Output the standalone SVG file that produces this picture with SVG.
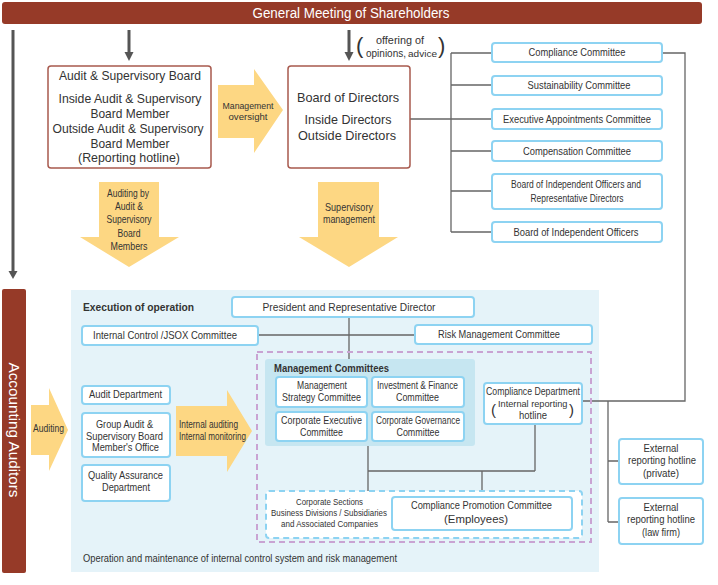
<svg xmlns="http://www.w3.org/2000/svg" width="718" height="585" viewBox="0 0 718 585">
<style>
text{font-family:"Liberation Sans",Arial,sans-serif;fill:#333;}
.c{text-anchor:middle;}
.f14{font-size:14px;}
.f13{font-size:13px;}
.f12{font-size:12.5px;}
.f11{font-size:11px;}
.f10{font-size:10.5px;}
.f9{font-size:9.5px;}
.b{font-weight:bold;}
.w{fill:#fff;}
.brown{fill:#963a28;}
.rbox{fill:#fff;stroke:#a85a4e;stroke-width:1.5;}
.bbox{fill:#fff;stroke:#8dd3f2;stroke-width:2;}
.yarrow{fill:#fdd783;}
.conn{stroke:#666;stroke-width:1.3;fill:none;}
.dark{stroke:#555;stroke-width:3;fill:none;}
.head{fill:#555;}
</style>

<g id="general-meeting">
<rect class="brown" x="2" y="2" width="700" height="22" rx="3"/>
<text class="c f14 w" x="351" y="18" textLength="197" lengthAdjust="spacingAndGlyphs">General Meeting of Shareholders</text>
</g>

<g id="accounting-auditors">
<rect class="brown" x="2" y="289" width="24" height="284" rx="2"/>
<text class="c w" font-size="15" transform="translate(8.5,430) rotate(90)" x="0" y="0" textLength="135" lengthAdjust="spacingAndGlyphs">Accounting Auditors</text>
</g>

<g id="execution-region">
<rect x="71" y="290" width="528" height="282" fill="#e5f3f9"/>
<text class="f11 b" x="83" y="311" textLength="111" lengthAdjust="spacingAndGlyphs">Execution of operation</text>
<text class="f11" x="83" y="562" textLength="314" lengthAdjust="spacingAndGlyphs">Operation and maintenance of internal control system and risk management</text>
</g>

<g id="connectors">
<path class="dark" d="M13,30 V272"/>
<polygon class="head" points="8.5,271 17.5,271 13,279"/>
<path class="dark" d="M129,30 V53"/>
<polygon class="head" points="124.5,52 133.5,52 129,61"/>
<path class="dark" d="M349,30 V53"/>
<polygon class="head" points="344.5,52 353.5,52 349,61"/>
<path class="conn" d="M410,119 H492 M451,53 V232 M451,53 H492 M451,85 H492 M451,151 H492 M451,191 H492 M451,232 H492"/>
<path class="conn" d="M662,53 H685 V401 H582 M608,401 V522 M608,461 H619 M608,522 H619"/>
<path class="conn" d="M349,317 V359 M258,335 H415"/>
<path class="conn" d="M368,446 V491 M368,471 H535 M535,424 V471 M482,471 V497"/>
</g>

<g id="opinions-label">
<text font-size="22" x="356" y="53">(</text>
<text font-size="22" x="438" y="53">)</text>
<text class="c f11" x="400" y="44" textLength="48" lengthAdjust="spacingAndGlyphs">offering of</text>
<text class="f11" x="366" y="57" textLength="40" lengthAdjust="spacingAndGlyphs">opinions,</text>
<text font-size="9" x="408" y="57" textLength="29" lengthAdjust="spacingAndGlyphs">advice</text>
</g>

<g id="audit-supervisory-board">
<rect class="rbox" x="48" y="66" width="163" height="102" rx="3"/>
<text class="c f13" x="130" y="80" textLength="142" lengthAdjust="spacingAndGlyphs">Audit &amp; Supervisory Board</text>
<text class="c f13" x="130" y="103" textLength="143" lengthAdjust="spacingAndGlyphs">Inside Audit &amp; Supervisory</text>
<text class="c f13" x="130" y="118" textLength="79" lengthAdjust="spacingAndGlyphs">Board Member</text>
<text class="c f13" x="128" y="133" textLength="151" lengthAdjust="spacingAndGlyphs">Outside Audit &amp; Supervisory</text>
<text class="c f13" x="130" y="148" textLength="79" lengthAdjust="spacingAndGlyphs">Board Member</text>
<text class="c f13" x="129" y="162" textLength="102" lengthAdjust="spacingAndGlyphs">(Reporting hotline)</text>
</g>

<g id="board-of-directors">
<rect class="rbox" x="288" y="66" width="122" height="102" rx="3"/>
<text class="c f13" x="348" y="102" textLength="102" lengthAdjust="spacingAndGlyphs">Board of Directors</text>
<text class="c f13" x="348" y="124" textLength="87" lengthAdjust="spacingAndGlyphs">Inside Directors</text>
<text class="c f13" x="347" y="140" textLength="98" lengthAdjust="spacingAndGlyphs">Outside Directors</text>
</g>

<g id="management-oversight">
<polygon class="yarrow" points="218,85 254,85 254,69 283,110 254,153 254,138 218,138"/>
<text class="c" font-size="9.5" x="248" y="108.5" textLength="51" lengthAdjust="spacingAndGlyphs">Management</text>
<text class="c" font-size="9.5" x="248" y="119.5" textLength="39" lengthAdjust="spacingAndGlyphs">oversight</text>
</g>

<g id="compliance-committee">
<rect class="bbox" x="492" y="43" width="170" height="19" rx="3"/>
<text class="c f11" x="577" y="56" textLength="97" lengthAdjust="spacingAndGlyphs">Compliance Committee</text>
</g>
<g id="sustainability-committee">
<rect class="bbox" x="492" y="76" width="170" height="19" rx="3"/>
<text class="c f11" x="579" y="89" textLength="103" lengthAdjust="spacingAndGlyphs">Sustainability Committee</text>
</g>
<g id="executive-appointments-committee">
<rect class="bbox" x="492" y="109" width="170" height="20" rx="3"/>
<text class="c f11" x="577" y="123" textLength="148" lengthAdjust="spacingAndGlyphs">Executive Appointments Committee</text>
</g>
<g id="compensation-committee">
<rect class="bbox" x="492" y="141" width="170" height="20" rx="3"/>
<text class="c f11" x="577" y="155" textLength="108" lengthAdjust="spacingAndGlyphs">Compensation Committee</text>
</g>
<g id="board-independent-officers-rep">
<rect class="bbox" x="492" y="174" width="170" height="35" rx="3"/>
<text class="c f10" x="576" y="188" textLength="130" lengthAdjust="spacingAndGlyphs">Board of Independent Officers and</text>
<text class="c f10" x="577" y="202" textLength="93" lengthAdjust="spacingAndGlyphs">Representative Directors</text>
</g>
<g id="board-independent-officers">
<rect class="bbox" x="492" y="222" width="170" height="20" rx="3"/>
<text class="c f11" x="576" y="236" textLength="125" lengthAdjust="spacingAndGlyphs">Board of Independent Officers</text>
</g>

<g id="auditing-by-board">
<polygon class="yarrow" points="99,182 159,182 159,237 179,237 129,267 80,237 99,237"/>
<text class="c f10" x="128" y="197" textLength="42" lengthAdjust="spacingAndGlyphs">Auditing by</text>
<text class="c f10" x="129" y="210" textLength="28" lengthAdjust="spacingAndGlyphs">Audit &amp;</text>
<text class="c f10" x="129" y="223" textLength="45" lengthAdjust="spacingAndGlyphs">Supervisory</text>
<text class="c f10" x="129" y="237" textLength="23" lengthAdjust="spacingAndGlyphs">Board</text>
<text class="c f10" x="129" y="250" textLength="37" lengthAdjust="spacingAndGlyphs">Members</text>
</g>

<g id="supervisory-management">
<polygon class="yarrow" points="318,182 379,182 379,237 398,237 349,267 299,237 318,237"/>
<text class="c f10" x="349" y="211" textLength="48" lengthAdjust="spacingAndGlyphs">Supervisory</text>
<text class="c f10" x="349" y="222.5" textLength="52" lengthAdjust="spacingAndGlyphs">management</text>
</g>

<g id="auditing-arrow">
<polygon class="yarrow" points="31,405 49,405 49,388 68,430 49,471 49,455 31,455"/>
<text class="f10" x="33" y="432" textLength="31" lengthAdjust="spacingAndGlyphs">Auditing</text>
</g>

<g id="internal-auditing-arrow">
<polygon class="yarrow" points="176,406 227,406 227,390 252,431 227,472 227,456 176,456"/>
<text class="f10" x="179" y="428" textLength="59" lengthAdjust="spacingAndGlyphs">Internal auditing</text>
<text class="f10" x="179" y="439.5" textLength="67" lengthAdjust="spacingAndGlyphs">Internal monitoring</text>
</g>

<g id="president">
<rect class="bbox" x="232" y="297" width="242" height="20" rx="3"/>
<text class="c f11" x="349" y="311" textLength="173" lengthAdjust="spacingAndGlyphs">President and Representative Director</text>
</g>

<g id="internal-control-committee">
<rect class="bbox" x="82" y="326" width="176" height="19" rx="3"/>
<text class="c f10" x="165" y="339" textLength="144" lengthAdjust="spacingAndGlyphs">Internal Control /JSOX Committee</text>
</g>

<g id="risk-management-committee">
<rect class="bbox" x="415" y="325" width="177" height="19" rx="3"/>
<text class="c f11" x="499" y="338" textLength="122" lengthAdjust="spacingAndGlyphs">Risk Management Committee</text>
</g>

<g id="group-area">
<rect x="257" y="352" width="334" height="190" fill="none" stroke="#c9a3d3" stroke-width="2" stroke-dasharray="6,4"/>
</g>

<g id="management-committees">
<rect x="265" y="359" width="210" height="87" rx="3" fill="#c6e6f1"/>
<text class="f11 b" x="274" y="372" textLength="115" lengthAdjust="spacingAndGlyphs">Management Committees</text>
</g>
<g id="management-strategy-committee">
<rect class="bbox" x="276" y="377" width="91" height="30" rx="3"/>
<text class="c f10" x="322" y="389" textLength="50" lengthAdjust="spacingAndGlyphs">Management</text>
<text class="c f10" x="321.5" y="401" textLength="79" lengthAdjust="spacingAndGlyphs">Strategy Committee</text>
</g>
<g id="investment-finance-committee">
<rect class="bbox" x="372" y="377" width="92" height="30" rx="3"/>
<text class="c f10" x="417.5" y="389" textLength="81" lengthAdjust="spacingAndGlyphs">Investment &amp; Finance</text>
<text class="c f10" x="417.5" y="401" textLength="43" lengthAdjust="spacingAndGlyphs">Committee</text>
</g>
<g id="corporate-executive-committee">
<rect class="bbox" x="276" y="412" width="91" height="29" rx="3"/>
<text class="c f10" x="321.5" y="424" textLength="81" lengthAdjust="spacingAndGlyphs">Corporate Executive</text>
<text class="c f10" x="321.5" y="436" textLength="43" lengthAdjust="spacingAndGlyphs">Committee</text>
</g>
<g id="corporate-governance-committee">
<rect class="bbox" x="372" y="412" width="92" height="29" rx="3"/>
<text class="c f10" x="418" y="424" textLength="84" lengthAdjust="spacingAndGlyphs">Corporate Governance</text>
<text class="c f10" x="418" y="436" textLength="43" lengthAdjust="spacingAndGlyphs">Committee</text>
</g>

<g id="compliance-department">
<rect class="bbox" x="484" y="383" width="98" height="41" rx="3"/>
<text class="c f10" x="533" y="395" textLength="94" lengthAdjust="spacingAndGlyphs">Compliance Department</text>
<text x="491" y="415"><tspan font-size="15">(</tspan><tspan x="498" y="407" font-size="9.2">Internal reporting</tspan><tspan x="569" y="415" font-size="15">)</tspan></text>
<text class="c f10" x="533" y="418.5" textLength="28" lengthAdjust="spacingAndGlyphs">hotline</text>
</g>

<g id="business-units">
<rect x="266" y="491" width="316" height="47" rx="3" fill="#fff" stroke="#8dd3f2" stroke-width="2" stroke-dasharray="6,4"/>
<text class="c f9" x="329.5" y="505" textLength="67" lengthAdjust="spacingAndGlyphs">Corporate Sections</text>
<text class="c f9" x="329" y="516" textLength="116" lengthAdjust="spacingAndGlyphs">Business Divisions / Subsidiaries</text>
<text class="c f9" x="329.5" y="527" textLength="97" lengthAdjust="spacingAndGlyphs">and Associated Companies</text>
</g>

<g id="compliance-promotion-committee">
<rect class="bbox" x="392" y="497" width="180" height="33" rx="3"/>
<text class="c f11" x="481.5" y="509" textLength="141" lengthAdjust="spacingAndGlyphs">Compliance Promotion Committee</text>
<text class="c f11" x="476" y="523" textLength="64" lengthAdjust="spacingAndGlyphs">(Employees)</text>
</g>

<g id="audit-department">
<rect class="bbox" x="82" y="386" width="88" height="18" rx="3"/>
<text class="c f10" x="125.5" y="398" textLength="73" lengthAdjust="spacingAndGlyphs">Audit Department</text>
</g>
<g id="group-audit-office">
<rect class="bbox" x="82" y="413" width="88" height="44" rx="3"/>
<text class="c f10" x="124.5" y="428" textLength="57" lengthAdjust="spacingAndGlyphs">Group Audit &amp;</text>
<text class="c f10" x="124.5" y="440" textLength="77" lengthAdjust="spacingAndGlyphs">Supervisory Board</text>
<text class="c f10" x="125.5" y="451" textLength="67" lengthAdjust="spacingAndGlyphs">Member's Office</text>
</g>
<g id="quality-assurance">
<rect class="bbox" x="82" y="465" width="88" height="36" rx="3"/>
<text class="c f10" x="125.5" y="479" textLength="75" lengthAdjust="spacingAndGlyphs">Quality Assurance</text>
<text class="c f10" x="126" y="491" textLength="48" lengthAdjust="spacingAndGlyphs">Department</text>
</g>

<g id="external-hotline-private">
<rect class="bbox" x="619" y="439" width="84" height="45" rx="3"/>
<text class="c f10" x="661" y="452" textLength="35" lengthAdjust="spacingAndGlyphs">External</text>
<text class="c f10" x="662" y="464" textLength="68" lengthAdjust="spacingAndGlyphs">reporting hotline</text>
<text class="c f10" x="661" y="477" textLength="36" lengthAdjust="spacingAndGlyphs">(private)</text>
</g>
<g id="external-hotline-lawfirm">
<rect class="bbox" x="619" y="498" width="84" height="46" rx="3"/>
<text class="c f10" x="661" y="511" textLength="35" lengthAdjust="spacingAndGlyphs">External</text>
<text class="c f10" x="661" y="523" textLength="68" lengthAdjust="spacingAndGlyphs">reporting hotline</text>
<text class="c f10" x="661" y="536" textLength="38" lengthAdjust="spacingAndGlyphs">(law firm)</text>
</g>
</svg>
